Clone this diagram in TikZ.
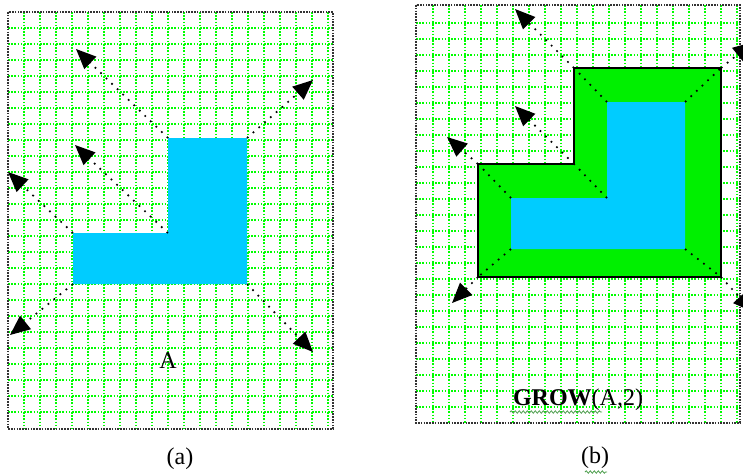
\documentclass[tikz,border=0pt]{standalone}
\usepackage{fontspec}
\setmainfont{Liberation Serif}
\usetikzlibrary{arrows.meta,decorations.pathmorphing}
\definecolor{gridgreen}{RGB}{0,255,0}
\definecolor{shapeblue}{RGB}{0,204,255}
\definecolor{growgreen}{RGB}{0,240,0}
\definecolor{squiggle}{RGB}{80,160,80}
\begin{document}
\begin{tikzpicture}[x=1pt,y=-1pt,
  gridline/.style={gridgreen, line width=1.6pt, dash pattern=on 1.6pt off 1.6pt},
  frame/.style={black!80, line width=1.6pt, dash pattern=on 1.6pt off 1.2pt},
  ray/.style={black, line width=1.7pt, dash pattern=on 1.7pt off 6pt, -{Triangle[length=20pt,width=17pt]}},
  diag/.style={black, line width=1.7pt, dash pattern=on 1.7pt off 6pt},
  lbl/.style={font=\fontsize{24}{28}\selectfont, inner sep=0pt},
  wavy/.style={squiggle, line width=0.8pt, decorate, decoration={snake, amplitude=1.2pt, segment length=4pt}},
]
\useasboundingbox (0,0) rectangle (743,475);
\clip (0,0) rectangle (743,475);
\fill[white] (0,0) rectangle (743,475);

% ---------- panel (a) ----------
\foreach \x in {24,40,...,328} \draw[gridline] (\x,12) -- (\x,429);
\foreach \y in {28,44,...,413} \draw[gridline] (8,\y) -- (333,\y);
\draw[frame] (8,12) rectangle (333,429);

\fill[shapeblue] (73,233) -- (168,233) -- (168,138) -- (247,138) -- (247,284) -- (73,284) -- cycle;

\coordinate (a1) at (168,138);
\coordinate (a2) at (247,138);
\coordinate (a3) at (168,233);
\coordinate (a4) at (73,233);
\coordinate (a5) at (73,284);
\coordinate (a6) at (247,284);
\coordinate (ta1) at (76,49);
\coordinate (ta2) at (313,80);
\coordinate (ta3) at (75,145);
\coordinate (ta4) at (8,172);
\coordinate (ta5) at (10,335);
\coordinate (ta6) at (313,352);
\foreach \i in {1,...,6} \draw[ray] (a\i) -- (ta\i);

\node[lbl] (labelA) at (168,361) {A};
\node[lbl] (capa) at (180,459) {(a)};

% ---------- panel (b) ----------
\foreach \x in {433,449,...,737} \draw[gridline] (\x,5) -- (\x,423);
\foreach \y in {23,39,...,407} \draw[gridline] (416,\y) -- (740,\y);
\draw[frame] (416,5) rectangle (740,423);

\filldraw[fill=growgreen, draw=black, line width=1.8pt]
  (478,164) -- (574,164) -- (574,68) -- (721,68) -- (721,277) -- (478,277) -- cycle;
\fill[shapeblue] (511,198) -- (607,198) -- (607,102) -- (685,102) -- (685,249) -- (511,249) -- cycle;

\coordinate (i1) at (607,102);
\coordinate (i2) at (685,102);
\coordinate (i3) at (607,198);
\coordinate (i4) at (511,198);
\coordinate (i5) at (511,249);
\coordinate (i6) at (685,249);
\coordinate (o1) at (574,68);
\coordinate (o2) at (721,68);
\coordinate (o3) at (574,164);
\coordinate (o4) at (478,164);
\coordinate (o5) at (478,277);
\coordinate (o6) at (721,277);
\coordinate (tb1) at (515,9);
\coordinate (tb2) at (753,42);
\coordinate (tb3) at (515,106);
\coordinate (tb4) at (447,137);
\coordinate (tb5) at (452,303);
\coordinate (tb6) at (753,312);
\foreach \i in {1,...,6} {
  \draw[diag] (i\i) -- (o\i);
  \draw[ray] (o\i) -- (tb\i);
}

\node[lbl] (grow) at (578,400) {\textbf{GROW}(A,2)};
\node[lbl] (capb) at (595,458) {(b)};
\draw[wavy] (510,412) -- (602,412);
\draw[wavy] (585,472) -- (607,472);
\end{tikzpicture}
\end{document}
